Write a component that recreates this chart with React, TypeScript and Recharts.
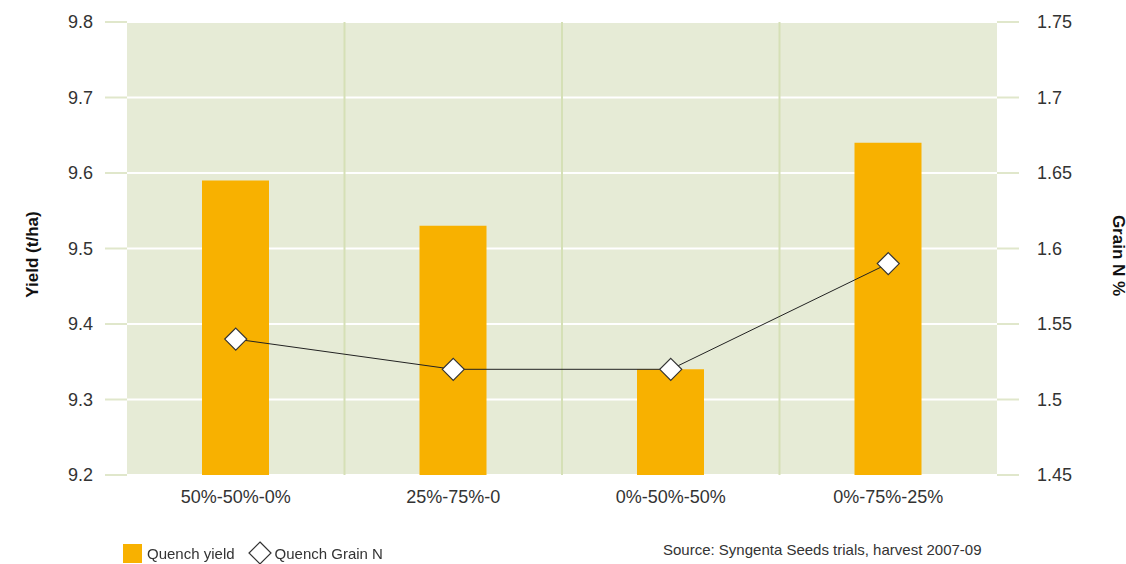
import {
  Bar,
  CartesianGrid,
  ComposedChart,
  Line,
  XAxis,
  YAxis,
} from "recharts";

const categories = ["50%-50%-0%", "25%-75%-0", "0%-50%-50%", "0%-75%-25%"];
const yieldValues = [9.59, 9.53, 9.34, 9.64];
const grainN = [1.54, 1.52, 1.52, 1.59];
const yieldTicks = [9.2, 9.3, 9.4, 9.5, 9.6, 9.7, 9.8];
const grainTicks = [1.45, 1.5, 1.55, 1.6, 1.65, 1.7, 1.75];
const separators = [1, 2, 3];

const FONT = '"Liberation Sans", Arial, Helvetica, sans-serif';
const BAR = "#f8b100";
const BG = "#e6ebd6";
const STUB = "#e0e7cb";
const SEP = "#d5e0b6";
const TEXT = "#333333";

const chartData = categories.map((name, i) => ({
  name,
  yield: yieldValues[i],
  grain: grainN[i],
}));

function Diamond(props: any) {
  const { cx, cy } = props;
  if (cx == null || cy == null) return null;
  const r = 11;
  return (
    <path
      d={`M${cx},${cy - r}L${cx + r},${cy}L${cx},${cy + r}L${cx - r},${cy}Z`}
      fill="#fff"
      stroke="#333"
      strokeWidth={1.2}
    />
  );
}

export default function App() {
  const tick = { fill: TEXT, fontSize: 18, fontFamily: FONT };
  return (
    <div
      style={{
        position: "fixed",
        left: 0,
        top: 0,
        width: 1126,
        height: 564,
        background: "#fff",
        fontFamily: FONT,
      }}
    >
      <ComposedChart
        width={1126}
        height={564}
        data={chartData}
        margin={{ top: 22, right: 0, left: 0, bottom: 59 }}
      >
        <CartesianGrid
          fill={BG}
          vertical={false}
          stroke="#ffffff"
          strokeWidth={2}
          yAxisId="left"
        />
        <CartesianGrid
          horizontal={false}
          stroke={SEP}
          strokeWidth={2}
          yAxisId="left"
          verticalCoordinatesGenerator={({ offset }: any) =>
            separators.map(
              (k) => offset.left + (offset.width * k) / categories.length
            )
          }
        />
        <XAxis
          dataKey="name"
          tick={tick}
          tickLine={false}
          axisLine={false}
          tickSize={0}
          tickMargin={15}
          height={30}
          interval={0}
        />
        <YAxis
          yAxisId="left"
          domain={[9.2, 9.8]}
          ticks={yieldTicks}
          tick={tick}
          tickSize={22}
          tickMargin={12}
          tickLine={{ stroke: STUB, strokeWidth: 2 }}
          axisLine={false}
          width={127}
          label={{
            content: ({ viewBox }: any) => (
              <text
                x={32}
                y={viewBox.y + viewBox.height / 2 + 6}
                transform={`rotate(-90, 32, ${viewBox.y + viewBox.height / 2 + 6})`}
                textAnchor="middle"
                dominantBaseline="central"
                fontFamily={FONT}
                fontWeight="bold"
                fontSize={17}
                fill="#111"
              >
                Yield (t/ha)
              </text>
            ),
          }}
        />
        <YAxis
          yAxisId="right"
          orientation="right"
          domain={[1.45, 1.75]}
          ticks={grainTicks}
          tick={{ ...tick, textAnchor: "start" }}
          tickSize={22}
          tickMargin={18}
          tickLine={{ stroke: STUB, strokeWidth: 2 }}
          axisLine={false}
          width={129}
          label={{
            content: ({ viewBox }: any) => (
              <text
                x={1118}
                y={viewBox.y + viewBox.height / 2 + 7}
                transform={`rotate(90, 1118, ${viewBox.y + viewBox.height / 2 + 7})`}
                textAnchor="middle"
                dominantBaseline="central"
                fontFamily={FONT}
                fontWeight="bold"
                fontSize={17}
                fill="#111"
              >
                Grain N %
              </text>
            ),
          }}
        />
        <Bar
          dataKey="yield"
          yAxisId="left"
          fill={BAR}
          barSize={67}
          isAnimationActive={false}
        />
        <Line
          dataKey="grain"
          yAxisId="right"
          stroke="#222"
          strokeWidth={1}
          dot={<Diamond />}
          activeDot={false}
          isAnimationActive={false}
        />
      </ComposedChart>
      <div
        style={{
          position: "absolute",
          left: 123,
          top: 540,
          display: "flex",
          alignItems: "center",
          fontSize: 15,
          color: TEXT,
        }}
      >
        <span
          style={{ width: 19, height: 19, background: BAR, marginRight: 5 }}
        />
        <span>Quench yield</span>
        <svg width={26} height={26} style={{ marginLeft: 12, marginRight: 2 }}>
          <path d="M13,2L24,13L13,24L2,13Z" fill="#fff" stroke="#333" strokeWidth={1.2} />
        </svg>
        <span>Quench Grain N</span>
      </div>
      <div
        style={{
          position: "absolute",
          left: 663,
          top: 541,
          fontSize: 15,
          color: TEXT,
        }}
      >
        Source: Syngenta Seeds trials, harvest 2007-09
      </div>
    </div>
  );
}
